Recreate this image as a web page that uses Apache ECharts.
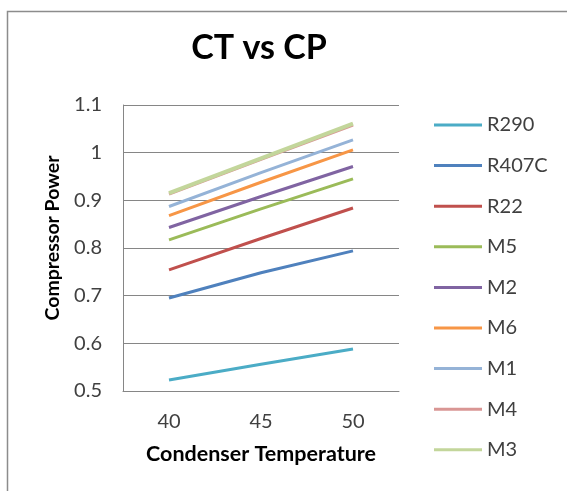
<!DOCTYPE html>
<html>
<head>
<meta charset="utf-8">
<script src="https://cdn.jsdelivr.net/npm/echarts@6/dist/echarts.min.js"></script>
<style>
html,body{margin:0;padding:0;background:#fff;}
#c{width:567px;height:491px;}
</style>
</head>
<body>
<div id="c"></div>
<script>
var categories = ['40', '45', '50'];
var seriesNames = ['R290', 'R407C', 'R22', 'M5', 'M2', 'M6', 'M1', 'M4', 'M3'];
var R290  = [0.523, 0.556, 0.588];
var R407C = [0.695, 0.748, 0.794];
var R22   = [0.754, 0.820, 0.884];
var M5    = [0.817, 0.882, 0.945];
var M2    = [0.843, 0.908, 0.971];
var M6    = [0.868, 0.938, 1.006];
var M1    = [0.887, 0.958, 1.027];
var M4    = [0.913, 0.986, 1.058];
var M3    = [0.915, 0.988, 1.061];
var yTicks = [0.5, 0.6, 0.7, 0.8, 0.9, 1.0, 1.1];

var values = [R290, R407C, R22, M5, M2, M6, M1, M4, M3];
var colors = ['#4bacc6', '#4f81bd', '#c0504d', '#9bbb59', '#8064a2', '#f79646', '#95b3d7', '#d99694', '#c3d69b'];
var FONT = 'Lato, "Open Sans", sans-serif';

var chart = echarts.init(document.getElementById('c'), null, {renderer: 'canvas'});
chart.setOption({
  backgroundColor: '#ffffff',
  animation: false,
  title: {
    text: 'CT vs CP',
    left: 254, top: 26,
    textAlign: 'center',
    textStyle: {fontFamily: FONT, fontWeight: 'bold', fontSize: 34, color: '#000'}
  },
  graphic: [{
    type: 'rect', shape: {x: 7.5, y: 11.5, width: 600, height: 520},
    style: {fill: 'none', stroke: '#8c8c8c', lineWidth: 1.5}, z: -1
  }],
  legend: {
    orient: 'vertical',
    left: 434, top: 115,
    padding: 0,
    data: seriesNames,
    icon: 'rect',
    itemWidth: 48, itemHeight: 3,
    itemGap: 20.6,
    textStyle: {fontFamily: FONT, fontSize: 20, color: '#404040', lineHeight: 20}
  },
  grid: {left: 123, right: 168, top: 105, bottom: 100, containLabel: false},
  xAxis: {
    type: 'category',
    data: categories,
    boundaryGap: true,
    name: 'Condenser Temperature',
    nameLocation: 'middle',
    nameGap: 52,
    nameTextStyle: {fontFamily: FONT, fontWeight: 'bold', fontSize: 21.5, color: '#000'},
    axisLine: {lineStyle: {color: '#868686', width: 1}},
    axisTick: {show: false},
    axisLabel: {fontFamily: FONT, fontSize: 20, color: '#404040', margin: 21}
  },
  yAxis: {
    type: 'value',
    min: yTicks[0], max: yTicks[yTicks.length - 1], interval: 0.1,
    name: 'Compressor Power',
    nameLocation: 'middle',
    nameGap: 60,
    nameTextStyle: {fontFamily: FONT, fontWeight: 'bold', fontSize: 19.5, color: '#000', padding: [0, 0, 0, 20]},
    axisLine: {show: true, lineStyle: {color: '#868686', width: 1}},
    axisTick: {show: false},
    splitLine: {lineStyle: {color: '#868686', width: 1}},
    axisLabel: {
      fontFamily: FONT, fontSize: 20, color: '#404040', margin: 21,
      formatter: function (v) { return String(Math.round(v * 10) / 10); }
    }
  },
  series: seriesNames.map(function (n, i) {
    return {
      name: n, type: 'line', data: values[i],
      symbol: 'none', smooth: false,
      color: colors[i],
      lineStyle: {color: colors[i], width: (n === 'M3' ? 4 : 3)}
    };
  })
});
</script>
</body>
</html>
